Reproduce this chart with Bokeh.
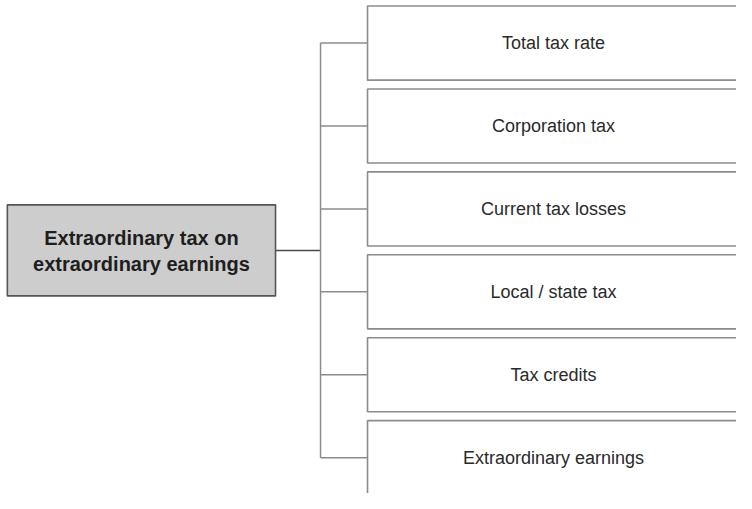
from bokeh.plotting import figure
from bokeh.models import Range1d
from bokeh.embed import file_html
from bokeh.resources import INLINE
from bokeh.core.properties import value

root_lines = ["Extraordinary tax on", "extraordinary earnings"]
children = ["Total tax rate", "Corporation tax", "Current tax losses",
            "Local / state tax", "Tax credits", "Extraordinary earnings"]

W, H = 736, 493
p = figure(width=W, height=H, output_backend="svg", toolbar_location=None,
           x_range=Range1d(0, 752), y_range=Range1d(509, 0),
           min_border=0)
p.axis.visible = False
p.grid.visible = False
p.outline_line_color = None
p.background_fill_color = "white"
p.border_fill_color = "white"

n = len(children)
pitch = 85.6
first_center = 44
centers = [first_center + i * pitch for i in range(n)]
box_h = 76.5
bx_left, bx_right = 375, 760
trunk_x = 327

# root box
root_l, root_r, root_t, root_b = 7, 281, 211, 305
root_cy = (centers[2] + centers[3]) / 2

# connectors
p.segment(x0=[root_r], y0=[root_cy], x1=[trunk_x], y1=[root_cy],
          line_color="#4a4a4a", line_width=1.5)
p.segment(x0=[trunk_x], y0=[centers[0]], x1=[trunk_x], y1=[centers[-1]],
          line_color="#8c8c8c", line_width=1.5)
p.segment(x0=[trunk_x] * n, y0=centers, x1=[bx_left] * n, y1=centers,
          line_color="#8c8c8c", line_width=1.5)

# child boxes
p.quad(left=[bx_left] * n, right=[bx_right] * n,
       top=[c - box_h / 2 for c in centers],
       bottom=[c + box_h / 2 for c in centers],
       fill_color="white", line_color="#8c8c8c", line_width=1.6)
p.text(x=[565] * n, y=centers, text=children,
       text_align="center", text_baseline="middle",
       text_font=value("Liberation Sans"), text_font_size="18px",
       text_color="#2a2a2a")

# root box
p.quad(left=[root_l], right=[root_r], top=[root_t], bottom=[root_b],
       fill_color="#cdcdcd", line_color="#555555", line_width=1.6)
p.text(x=[(root_l + root_r) / 2] * 2, y=[root_cy - 13, root_cy + 14],
       text=root_lines, text_align="center", text_baseline="middle",
       text_font=value("Liberation Sans"), text_font_style="bold",
       text_font_size="20px", text_color="#1e1e1e")

open("out.html", "w").write(file_html(p, INLINE))
